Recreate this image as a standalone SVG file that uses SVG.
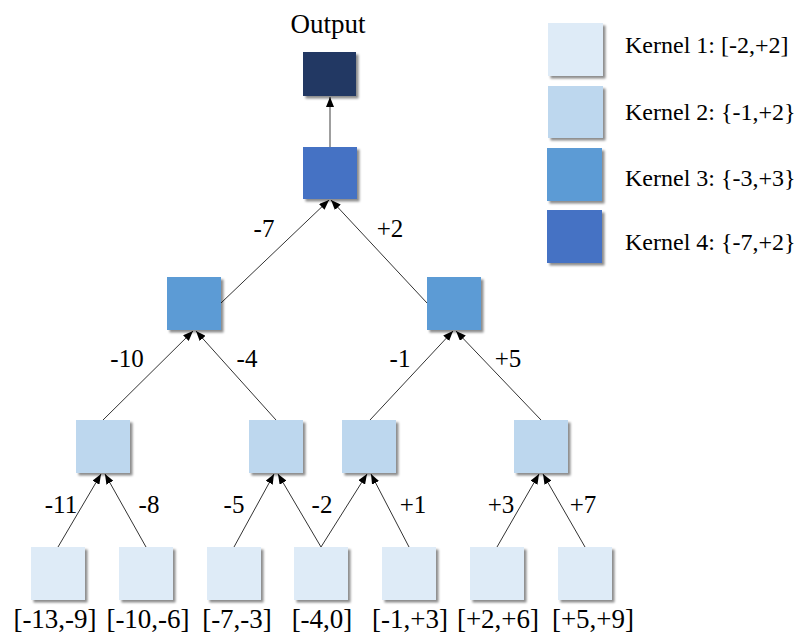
<svg xmlns="http://www.w3.org/2000/svg" width="795" height="636" viewBox="0 0 795 636">
  <defs>
    <filter id="shadow" x="-20%" y="-20%" width="150%" height="150%">
      <feDropShadow dx="2.5" dy="2.5" stdDeviation="1.2" flood-color="#000" flood-opacity="0.45"/>
    </filter>
    <marker id="arrow" viewBox="0 0 10 8" refX="10" refY="4" markerWidth="10" markerHeight="8" markerUnits="userSpaceOnUse" orient="auto">
      <path d="M0,0 L10,4 L0,8 z" fill="#000"/>
    </marker>
  </defs>
  <style>
    .box { filter: url(#shadow); }
    .k1 { fill: #deebf7; }
    .k2 { fill: #bdd7ee; }
    .k3 { fill: #5b9bd5; }
    .k4 { fill: #4472c4; }
    .out { fill: #203864; }
    .edge { stroke: #333; stroke-width: 1; fill: none; marker-end: url(#arrow); }
    .edge.top { stroke: #7f7f7f; stroke-width: 1.5; }
    text { font-family: "Liberation Serif", "Times New Roman", serif; fill: #000; }
    .lbl { font-size: 25px; text-anchor: middle; }
    .rng { font-size: 27px; text-anchor: middle; }
    .leg { font-size: 24px; }
  </style>

  <rect width="795" height="636" fill="#fff"/>

  <!-- connectors -->
  <g id="connectors">
    <line class="edge top" x1="330" y1="147" x2="330" y2="97"/>
    <line class="edge" x1="221" y1="303" x2="329" y2="200"/>
    <line class="edge" x1="427" y1="303" x2="331" y2="200"/>
    <line class="edge" x1="103" y1="420" x2="193" y2="331"/>
    <line class="edge" x1="276" y1="420" x2="196" y2="331"/>
    <line class="edge" x1="370" y1="420" x2="453" y2="331"/>
    <line class="edge" x1="541" y1="420" x2="456" y2="331"/>
    <line class="edge" x1="58" y1="547" x2="101" y2="474"/>
    <line class="edge" x1="146" y1="547" x2="105" y2="474"/>
    <line class="edge" x1="234" y1="547" x2="274" y2="474"/>
    <line class="edge" x1="321" y1="547" x2="278" y2="474"/>
    <line class="edge" x1="321" y1="547" x2="367" y2="474"/>
    <line class="edge" x1="409" y1="547" x2="371" y2="474"/>
    <line class="edge" x1="497" y1="547" x2="539" y2="474"/>
    <line class="edge" x1="585" y1="547" x2="543" y2="474"/>
  </g>

  <!-- edge labels -->
  <g id="edge-labels">
    <text class="lbl" x="264" y="237">-7</text>
    <text class="lbl" x="390" y="237">+2</text>
    <text class="lbl" x="127" y="367">-10</text>
    <text class="lbl" x="247" y="367">-4</text>
    <text class="lbl" x="400" y="367">-1</text>
    <text class="lbl" x="508" y="367">+5</text>
    <text class="lbl" x="61" y="513">-11</text>
    <text class="lbl" x="149" y="513">-8</text>
    <text class="lbl" x="234" y="513">-5</text>
    <text class="lbl" x="322" y="513">-2</text>
    <text class="lbl" x="413" y="513">+1</text>
    <text class="lbl" x="501" y="513">+3</text>
    <text class="lbl" x="583" y="513">+7</text>
  </g>

  <!-- output -->
  <g id="output">
    <text class="lbl" x="328" y="33" style="font-size:27px">Output</text>
    <rect class="box out" x="303" y="52" width="53" height="44"/>
  </g>

  <!-- kernel 4 -->
  <g id="k4-node">
    <rect class="box k4" x="303" y="147" width="54" height="52"/>
  </g>

  <!-- kernel 3 -->
  <g id="k3-left">
    <rect class="box k3" x="167" y="277" width="54" height="53"/>
  </g>
  <g id="k3-right">
    <rect class="box k3" x="427" y="277" width="54" height="53"/>
  </g>

  <!-- kernel 2 -->
  <g id="k2-a"><rect class="box k2" x="76" y="420" width="54" height="53"/></g>
  <g id="k2-b"><rect class="box k2" x="249" y="420" width="54" height="53"/></g>
  <g id="k2-c"><rect class="box k2" x="342" y="420" width="54" height="53"/></g>
  <g id="k2-d"><rect class="box k2" x="514" y="420" width="54" height="53"/></g>

  <!-- kernel 1 inputs -->
  <g id="in-1"><rect class="box k1" x="31" y="547" width="54" height="53"/><text class="rng" x="55" y="628">[-13,-9]</text></g>
  <g id="in-2"><rect class="box k1" x="119" y="547" width="54" height="53"/><text class="rng" x="148" y="628">[-10,-6]</text></g>
  <g id="in-3"><rect class="box k1" x="207" y="547" width="54" height="53"/><text class="rng" x="237" y="628">[-7,-3]</text></g>
  <g id="in-4"><rect class="box k1" x="294" y="547" width="54" height="53"/><text class="rng" x="322" y="628">[-4,0]</text></g>
  <g id="in-5"><rect class="box k1" x="382" y="547" width="54" height="53"/><text class="rng" x="410" y="628">[-1,+3]</text></g>
  <g id="in-6"><rect class="box k1" x="470" y="547" width="54" height="53"/><text class="rng" x="498" y="628">[+2,+6]</text></g>
  <g id="in-7"><rect class="box k1" x="558" y="547" width="54" height="53"/><text class="rng" x="593" y="628">[+5,+9]</text></g>

  <!-- legend -->
  <g id="legend">
    <g id="legend-k1"><rect class="box k1" x="548" y="23" width="55" height="53"/><text class="leg" x="625" y="53">Kernel 1: [-2,+2]</text></g>
    <g id="legend-k2"><rect class="box k2" x="548" y="86" width="55" height="52"/><text class="leg" x="625" y="120">Kernel 2: {-1,+2}</text></g>
    <g id="legend-k3"><rect class="box k3" x="547" y="148" width="55" height="53"/><text class="leg" x="625" y="186">Kernel 3: {-3,+3}</text></g>
    <g id="legend-k4"><rect class="box k4" x="547" y="210" width="55" height="53"/><text class="leg" x="625" y="250">Kernel 4: {-7,+2}</text></g>
  </g>
</svg>
